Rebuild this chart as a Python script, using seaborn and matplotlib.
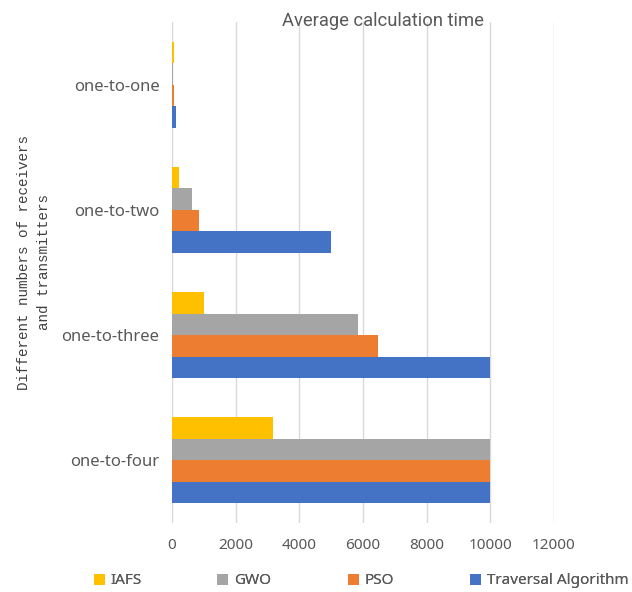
import matplotlib
matplotlib.use("Agg")
import matplotlib.pyplot as plt
from matplotlib.patches import Patch
import seaborn as sns
import pandas as pd

# Average calculation time per configuration and algorithm
categories = ["one-to-one", "one-to-two", "one-to-three", "one-to-four"]
algorithms = ["IAFS", "GWO", "PSO", "Traversal Algorithm"]
iafs = [70, 230, 1000, 3160]
gwo = [40, 620, 5840, 10000]
pso = [50, 860, 6480, 10000]
traversal = [120, 5000, 10000, 10000]
x_ticks = [0, 2000, 4000, 6000, 8000, 10000, 12000]

colors = ["#FFC000", "#A5A5A5", "#ED7D31", "#4472C4"]
text_gray = "#595959"

rows = []
for name, vals in zip(algorithms, [iafs, gwo, pso, traversal]):
    for cat, v in zip(categories, vals):
        rows.append({"config": cat, "algorithm": name, "time": v})
df = pd.DataFrame(rows)

sns.set_style("white")
fig = plt.figure(figsize=(6.32, 5.92), dpi=100)
ax = fig.add_axes([172 / 632, 1 - 523 / 592, (554 - 172) / 632, (523 - 22) / 592])

sns.barplot(data=df, y="config", x="time", hue="algorithm",
            order=categories, hue_order=algorithms, palette=colors,
            orient="h", width=0.685, gap=0, saturation=1,
            edgecolor="none", linewidth=0, errorbar=None, legend=False, ax=ax)

ax.set_xlim(0, 12000)
ax.set_xticks(x_ticks)
ax.set_xticklabels([str(t) for t in x_ticks])
ax.grid(axis="x", color="#D9D9D9", linewidth=1.0)
ax.set_axisbelow(True)
for s in ax.spines.values():
    s.set_visible(False)
ax.tick_params(axis="x", length=0, pad=11, labelsize=11, labelcolor=text_gray)
ax.tick_params(axis="y", length=0, pad=9, labelsize=12, labelcolor=text_gray)
for lab in ax.get_xticklabels() + ax.get_yticklabels():
    lab.set_family(["Noto Sans", "DejaVu Sans"])
ax.set_xlabel("")
ax.set_ylabel("")

fig.text(383 / 632, 1 - 21 / 592, "Average calculation time",
         ha="center", va="center", fontsize=13.2, color=text_gray,
         family=["Roboto", "DejaVu Sans"])

fig.text(34 / 632, 1 - 262 / 592,
         "Different numbers of receivers\nand transmitters",
         rotation=90, ha="center", va="center", multialignment="center",
         fontsize=10.3, linespacing=1.5, color="#404040",
         family=["Liberation Mono", "DejaVu Sans Mono"])

legend_x = [94, 217, 348, 470]
for name, col, lx in zip(algorithms, colors, legend_x):
    leg = fig.legend(handles=[Patch(facecolor=col, edgecolor="none", label=name)],
                     loc="center left", bbox_to_anchor=(lx / 632, 1 - 581 / 592),
                     frameon=False, borderpad=0, borderaxespad=0,
                     handlelength=0.7, handleheight=0.7, handletextpad=0.4,
                     prop={"family": ["Noto Sans", "DejaVu Sans"], "size": 11})
    for t in leg.get_texts():
        t.set_color(text_gray)
    fig.add_artist(leg)

fig.savefig("out.png", dpi=100)
